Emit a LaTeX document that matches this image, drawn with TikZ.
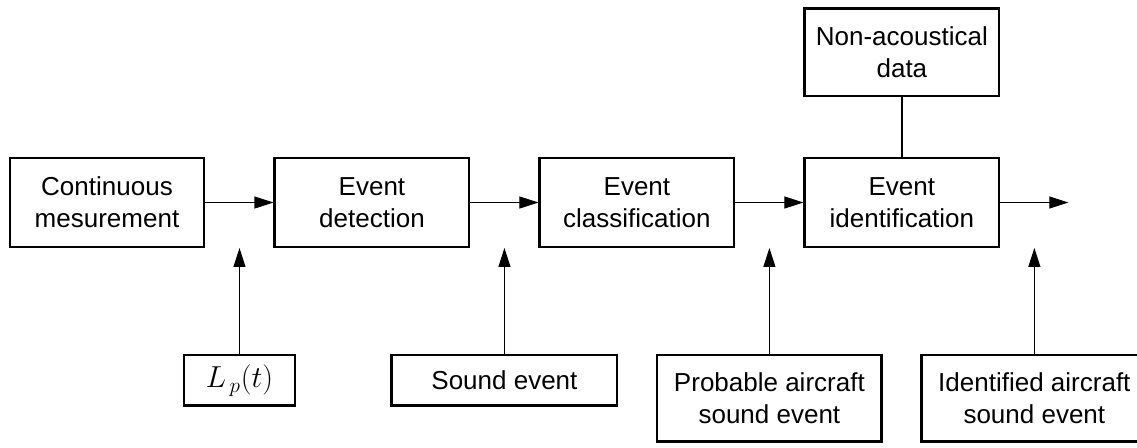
\documentclass[tikz,border=0pt]{standalone}
\usepackage{fontspec}
\setmainfont{Liberation Sans}
\usetikzlibrary{arrows.meta,positioning}

\begin{document}
\begin{tikzpicture}[node distance=1.2cm and 1.36cm,box/.style={draw,line width=1.4pt,align=center,minimum width=3.89cm,minimum height=1.77cm,font=\fontsize{14.8}{18.2}\selectfont},arr/.style={line width=0.6pt,-{Triangle[length=0.38cm,width=0.24cm]}}]
\useasboundingbox (0,0) rectangle (22.74,-8.94);
\node[box] (cont) at (2.14,-4.05) {Continuous\\mesurement};
\node[box,right=of cont] (det) {Event\\detection};
\node[box,right=of det] (cls) {Event\\classification};
\node[box,right=of cls] (id) {Event\\identification};
\node[box,above=of id,minimum height=1.75cm] (nad) {Non-acoustical\\data};
% free ends of the arrows
\coordinate[right=0.68cm of cont.south east] (g1);
\coordinate[right=0.68cm of det.south east] (g2);
\coordinate[right=0.68cm of cls.south east] (g3);
\coordinate[right=0.68cm of id.south east] (g4);
\coordinate[right=1.36cm of id.east] (out);
% inputs
\node[box,minimum width=2.23cm,minimum height=1.01cm,below=2.12cm of g1,font=\fontsize{18}{20}\selectfont] (lp) {$L_{\,p}(t)$};
\node[box,minimum width=4.51cm,minimum height=1.01cm,below=2.12cm of g2] (snd) {Sound event};
\node[box,minimum width=4.49cm,minimum height=1.73cm,below=2.12cm of g3] (prob) {Probable aircraft\\sound event};
\node[box,minimum width=4.51cm,minimum height=1.73cm,below=2.12cm of g4] (ident) {Identified aircraft\\sound event};
\draw[arr](cont)--(det);\draw[arr](det)--(cls);\draw[arr](cls)--(id);\draw[arr](id)--(out);
\draw[line width=1.4pt](nad)--(id);
\draw[arr](lp)--(g1);\draw[arr](snd)--(g2);\draw[arr](prob)--(g3);\draw[arr](ident)--(g4);
\end{tikzpicture}
\end{document}
